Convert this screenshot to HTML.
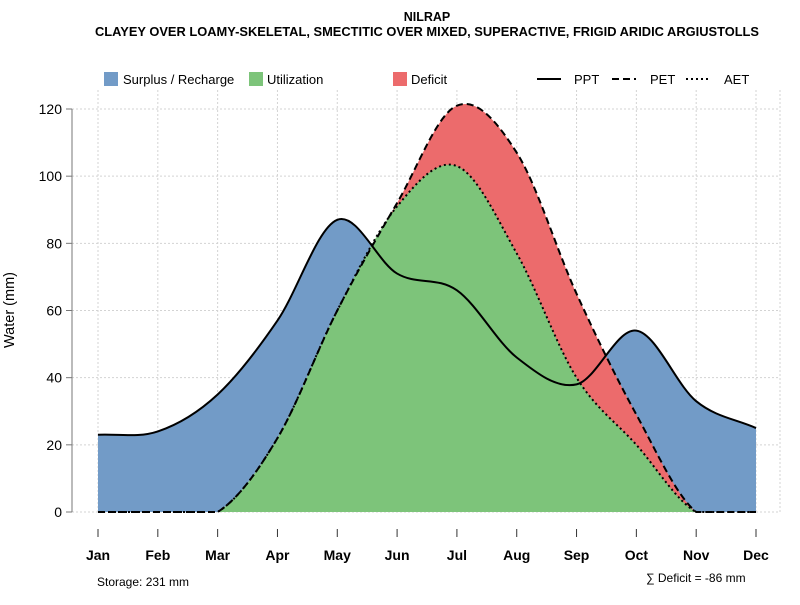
<!DOCTYPE html>
<html><head><meta charset="utf-8"><style>
body{margin:0;background:#fff;}
svg{font-family:"Liberation Sans",sans-serif;}
</style></head><body>
<svg id="chart" width="800" height="600" viewBox="0 0 800 600">
<text x="427" y="21" text-anchor="middle" font-size="12.5" font-weight="bold">NILRAP</text>
<text x="427" y="36" text-anchor="middle" font-size="12.5" font-weight="bold" textLength="664" lengthAdjust="spacingAndGlyphs">CLAYEY OVER LOAMY-SKELETAL, SMECTITIC OVER MIXED, SUPERACTIVE, FRIGID ARIDIC ARGIUSTOLLS</text>
<g id="grid"></g>
<g id="areas"></g>
<g id="lines"></g>
<g id="axes"></g>
<g>
<rect x="104" y="72" width="14" height="14" fill="#729bc7"/>
<text x="123" y="84" font-size="13">Surplus / Recharge</text>
<rect x="249" y="72" width="14" height="14" fill="#7dc47a"/>
<text x="267" y="84" font-size="13">Utilization</text>
<rect x="393" y="72" width="14" height="14" fill="#ec6b6c"/>
<text x="411" y="84" font-size="13">Deficit</text>
<line x1="537" y1="79" x2="561" y2="79" stroke="#000" stroke-width="2"/>
<text x="574" y="84" font-size="13">PPT</text>
<line x1="612" y1="79" x2="636" y2="79" stroke="#000" stroke-width="2" stroke-dasharray="7,4"/>
<text x="650" y="84" font-size="13">PET</text>
<line x1="686" y1="79" x2="710" y2="79" stroke="#000" stroke-width="2" stroke-dasharray="2,3"/>
<text x="724" y="84" font-size="13">AET</text>
</g>
<text x="14" y="310" font-size="14.5" text-anchor="middle" transform="rotate(-90 14 310)">Water (mm)</text>
<text x="97" y="586" font-size="12">Storage: 231 mm</text>
<text x="646" y="582" font-size="12">∑ Deficit = -86 mm</text>
</svg>
<script>
const months=["Jan","Feb","Mar","Apr","May","Jun","Jul","Aug","Sep","Oct","Nov","Dec"];
const ppt=[23,24,35,57,87,71,66,46,38,54,33,25];
const pet=[0,0,0,22,60,92,121,107,65,29,0,0];
const aet=[0,0,0,22,60,91,103,77,40,20,0,0];
const yTicks=[0,20,40,60,80,100,120];
const NS="http://www.w3.org/2000/svg";
const X=i=>98+i*(756-98)/11;
const Y=v=>512-v*(512-109)/120;
function mk(t,a,p){const e=document.createElementNS(NS,t);for(const k in a)e.setAttribute(k,a[k]);p.appendChild(e);return e;}
function smooth(vals){
  const n=vals.length,xs=vals.map((v,i)=>X(i)),ys=vals.map(v=>Y(v));
  const m=[];
  for(let i=0;i<n;i++){
    const a=Math.max(0,i-1),b=Math.min(n-1,i+1);
    m.push((ys[b]-ys[a])/(xs[b]-xs[a]));
  }
  const y0=Y(0);
  let p="M"+xs[0]+","+ys[0];
  for(let i=0;i<n-1;i++){const h=(xs[i+1]-xs[i])/3;
    const c1=Math.min(y0,ys[i]+m[i]*h),c2=Math.min(y0,ys[i+1]-m[i+1]*h);
    p+=" C"+(xs[i]+h)+","+c1+" "+(xs[i+1]-h)+","+c2+" "+xs[i+1]+","+ys[i+1];}
  return p;
}
const grid=document.getElementById('grid'),areas=document.getElementById('areas'),lines=document.getElementById('lines'),axes=document.getElementById('axes');
yTicks.forEach(v=>{
  const g=mk('line',{x1:72,x2:780,y1:Y(v),y2:Y(v),stroke:'#d3d3d3','stroke-dasharray':'2,2'},grid);
  
  
  const t=mk('line',{x1:66,x2:72,y1:Y(v),y2:Y(v),stroke:'#777'},axes);
  
  
  const l=mk('text',{x:62,y:Y(v)+5,'text-anchor':'end','font-size':14},axes);l.textContent=v;
  
  
});
mk('line',{x1:72,x2:72,y1:Y(0),y2:Y(120),stroke:'#777'},axes);
months.forEach((m,i)=>{
  const g=mk('line',{x1:X(i),x2:X(i),y1:90,y2:512,stroke:'#d3d3d3','stroke-dasharray':'2,2'},grid);
  
  
  const t=mk('line',{x1:X(i),x2:X(i),y1:529,y2:537,stroke:'#333'},axes);
  
  
  const l=mk('text',{x:X(i),y:560,'text-anchor':'middle','font-size':14,'font-weight':'bold'},axes);l.textContent=m;
  
  
});
mk('line',{x1:780,x2:780,y1:90,y2:512,stroke:'#d3d3d3','stroke-dasharray':'2,2'},grid);
const close=" L"+X(11)+","+Y(0)+" L"+X(0)+","+Y(0)+" Z";
const a1=mk('path',{d:smooth(ppt)+close,fill:'#729bc7'},areas);


const a2=mk('path',{d:smooth(pet)+close,fill:'#ec6b6c'},areas);


const a3=mk('path',{d:smooth(aet)+close,fill:'#7dc47a'},areas);


const l1=mk('path',{d:smooth(ppt),fill:'none',stroke:'#000','stroke-width':2},lines);


const l2=mk('path',{d:smooth(pet),fill:'none',stroke:'#000','stroke-width':2,'stroke-dasharray':'7,4'},lines);


const l3=mk('path',{d:smooth(aet),fill:'none',stroke:'#000','stroke-width':2,'stroke-dasharray':'2,3'},lines);


</script>
</body></html>
